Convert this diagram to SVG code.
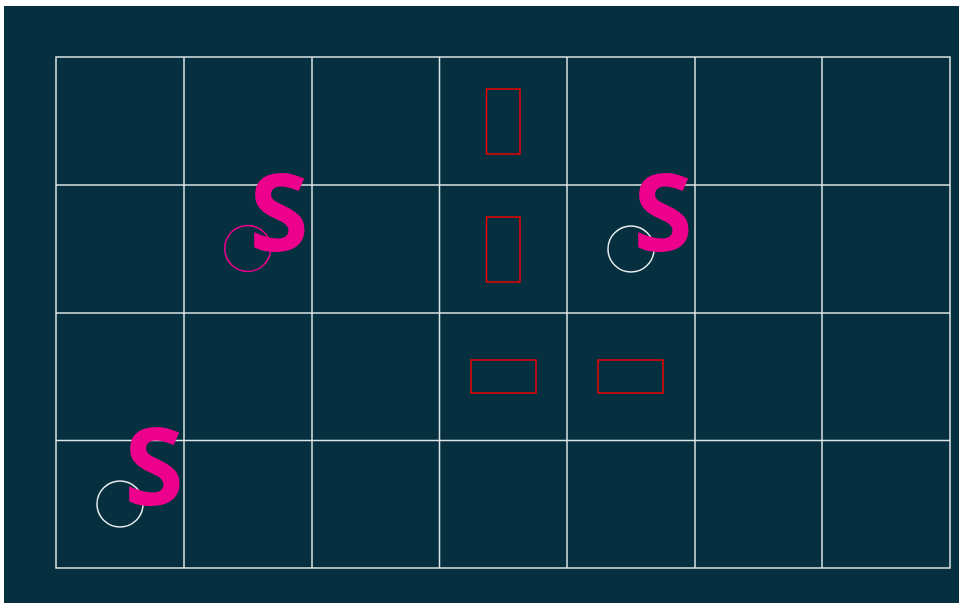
<svg xmlns="http://www.w3.org/2000/svg" width="959" height="603" viewBox="0 0 959 603">
<style>
.g{stroke:#dde4e6;stroke-width:1.5;fill:none}
.r{stroke:#f00000;stroke-width:1.5;fill:none}
.s{font-family:"Open Sans","Noto Sans",sans-serif;font-size:108px;font-weight:700;fill:#ec008c;text-anchor:middle}
.cw{stroke:#e8ecee;stroke-width:1.5;fill:none}
.cm{stroke:#ec008c;stroke-width:1.5;fill:none}
</style>
<rect x="0" y="0" width="959" height="603" fill="#ffffff"/>
<rect x="4" y="6" width="955" height="597" fill="#06303f"/>
<g id="grid" class="g">
<rect x="56" y="57" width="894" height="511"/>
<path d="M184 57V568M312 57V568M439.5 57V568M567 57V568M695 57V568M822 57V568M56 185H950M56 313H950M56 440.5H950"/>
</g>
<g id="obstacles" class="r">
<rect x="486.5" y="89" width="33.5" height="65"/>
<rect x="486.5" y="217" width="33.5" height="65"/>
<rect x="471" y="360" width="65" height="33"/>
<rect x="598" y="360" width="65" height="33"/>
</g>
<g id="n1"><circle class="cm" cx="247.7" cy="248.5" r="23"/><text class="s" x="279" y="251">S</text></g>
<g id="n2"><circle class="cw" cx="631" cy="249" r="23"/><text class="s" x="663" y="251">S</text></g>
<g id="n3"><circle class="cw" cx="120" cy="504" r="23"/><text class="s" x="154" y="505">S</text></g>
</svg>
